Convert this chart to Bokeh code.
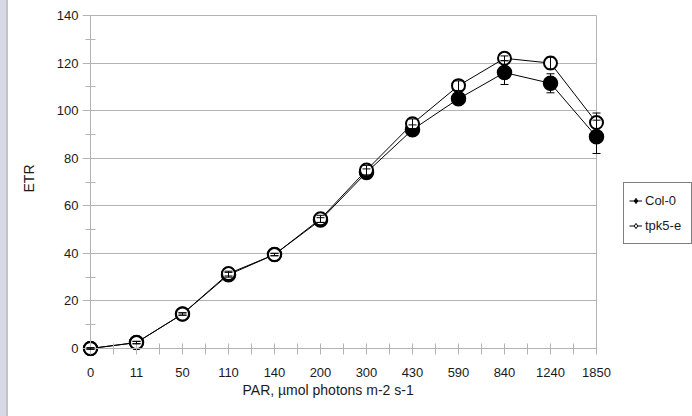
from bokeh.plotting import figure
from bokeh.layouts import row
from bokeh.models import (Range1d, FixedTicker, Legend, LegendItem, Whisker,
                          ColumnDataSource, TeeHead, LinearAxis, Spacer, Title)
from bokeh.embed import file_html
from bokeh.resources import INLINE

# ---- data ----
par_labels = ["0", "11", "50", "110", "140", "200", "300", "430", "590", "840", "1240", "1850"]
col0 = [0, 2.5, 14.5, 31, 39.5, 54, 74, 92, 105, 116, 111.5, 89]
col0_err = [0.3, 0.5, 0.5, 1, 0.5, 1, 1.5, 2, 2, 5, 4, 7]
tpk5 = [0, 2.5, 14.5, 31.5, 39.5, 54.5, 75, 94.5, 110.5, 122, 120, 95]
tpk5_err = [0.3, 0.5, 0.5, 1, 0.5, 1.5, 2, 2, 2, 1, 2.5, 4]
y_ticks = [0, 20, 40, 60, 80, 100, 120, 140]
y_minor = [10, 30, 50, 70, 90, 110, 130]
series_names = ["Col-0", "tpk5-e"]
x_title = "PAR, µmol photons m-2 s-1"
y_title = "ETR"

x = list(range(len(par_labels)))
n = len(par_labels) - 1
x_minor = [i * 0.5 for i in range(2 * n + 1)]

GRAY = "#b3b3b3"
TXT = "#1a1a1a"
FONT = "Liberation Sans"
FS = "13px"
FS_AX = "14px"
PX_X = 46.0
PX_Y = 333.0 / 140.0
STRIP = 8

p = figure(width=692 - STRIP, height=416, output_backend="svg", toolbar_location=None,
           x_range=Range1d(-8 / PX_X, n + 96 / PX_X),
           y_range=Range1d(-8 / PX_Y, 140 + 15 / PX_Y),
           min_border_left=82 - STRIP, min_border_right=0, min_border_top=0,
           min_border_bottom=60)
p.outline_line_color = None
p.background_fill_color = "white"
p.border_fill_color = "white"

# grid
p.ygrid.ticker = FixedTicker(ticks=y_ticks[1:])
p.ygrid.cross_bounds = (0, n)
p.ygrid.grid_line_color = GRAY
p.xgrid.ticker = FixedTicker(ticks=[n])
p.xgrid.cross_bounds = (0, 140)
p.xgrid.grid_line_color = GRAY

# ---- label axes (text only) ----
xa = p.xaxis[0]
xa.ticker = FixedTicker(ticks=x)
xa.major_label_overrides = {i: lab for i, lab in zip(x, par_labels)}
xa.axis_line_color = None
xa.major_tick_line_color = None
xa.minor_tick_line_color = None
xa.major_tick_in = 0
xa.major_tick_out = 0
xa.minor_tick_in = 0
xa.minor_tick_out = 0
xa.major_label_standoff = 11
xa.major_label_text_font = FONT
xa.major_label_text_font_size = FS
xa.major_label_text_color = TXT

# x axis title, placed left of centre like in the original
p.add_layout(Title(text=x_title, align="left", offset=160, standoff=0,
                   text_font=FONT, text_font_size=FS_AX, text_font_style="normal",
                   text_color=TXT), "below")

ya = p.yaxis[0]
ya.ticker = FixedTicker(ticks=y_ticks)
ya.bounds = (-8 / PX_Y, 140)
ya.axis_line_color = None
ya.major_tick_line_color = None
ya.minor_tick_line_color = None
ya.major_tick_in = 0
ya.major_tick_out = 0
ya.minor_tick_in = 0
ya.minor_tick_out = 0
ya.major_label_standoff = 4
ya.major_label_text_font = FONT
ya.major_label_text_font_size = FS
ya.major_label_text_color = TXT
ya.axis_label = y_title
ya.axis_label_text_font = FONT
ya.axis_label_text_font_size = FS_AX
ya.axis_label_text_font_style = "normal"
ya.axis_label_text_color = TXT
ya.axis_label_standoff = 17

# ---- axis lines + tick marks at data zero (no text) ----
xa2 = LinearAxis(fixed_location=0, bounds=(0, n),
                 ticker=FixedTicker(ticks=[], minor_ticks=x_minor),
                 axis_line_color=GRAY, major_tick_line_color=None, minor_tick_line_color=GRAY,
                 major_tick_in=0, major_tick_out=0, minor_tick_in=5, minor_tick_out=6)
p.add_layout(xa2, "below")
ya2 = LinearAxis(fixed_location=0, bounds=(0, 140),
                 ticker=FixedTicker(ticks=[], minor_ticks=y_minor),
                 axis_line_color=GRAY, major_tick_line_color=None, minor_tick_line_color=GRAY,
                 major_tick_in=0, major_tick_out=0, minor_tick_in=5, minor_tick_out=5)
p.add_layout(ya2, "left")
ya3 = LinearAxis(fixed_location=0, bounds=(0, 140),
                 ticker=FixedTicker(ticks=[], minor_ticks=y_ticks),
                 axis_line_color=None, major_tick_line_color=None, minor_tick_line_color=GRAY,
                 major_tick_in=0, major_tick_out=0, minor_tick_in=0, minor_tick_out=8)
p.add_layout(ya3, "left")

# ---- series ----
src = ColumnDataSource(dict(
    x=x, col0=col0, tpk5=tpk5,
    col0_lo=[v - e for v, e in zip(col0, col0_err)],
    col0_hi=[v + e for v, e in zip(col0, col0_err)],
    tpk5_lo=[v - e for v, e in zip(tpk5, tpk5_err)],
    tpk5_hi=[v + e for v, e in zip(tpk5, tpk5_err)],
))

l_col = p.line("x", "col0", source=src, line_color="black", line_width=1)
l_tpk = p.line("x", "tpk5", source=src, line_color="black", line_width=1)
# legend symbols (diamonds) - hidden underneath the circles in the plot
d_col = p.scatter("x", "col0", source=src, marker="diamond", size=9,
                  fill_color="black", line_color="black")
d_tpk = p.scatter("x", "tpk5", source=src, marker="diamond", size=9,
                  fill_color="white", line_color="black")
p.scatter("x", "col0", source=src, marker="circle", size=14,
          fill_color="black", line_color="black", line_width=1.5)
p.scatter("x", "tpk5", source=src, marker="circle", size=13,
          fill_color="white", line_color="black", line_width=2)

for lo, hi in (("col0_lo", "col0_hi"), ("tpk5_lo", "tpk5_hi")):
    w = Whisker(source=src, base="x", lower=lo, upper=hi, level="overlay",
                line_color="black", line_width=1,
                upper_head=TeeHead(size=8, line_color="black", line_width=1),
                lower_head=TeeHead(size=8, line_color="black", line_width=1))
    p.add_layout(w)

legend = Legend(items=[LegendItem(label=series_names[0], renderers=[l_col, d_col]),
                       LegendItem(label=series_names[1], renderers=[l_tpk, d_tpk])],
                location=(541, 112), padding=5, spacing=0, margin=0,
                glyph_width=13, glyph_height=25, label_height=25, label_width=41,
                label_standoff=3,
                label_text_font=FONT, label_text_font_size=FS, label_text_color=TXT,
                border_line_color="black", border_line_width=1,
                background_fill_color="white", background_fill_alpha=1)
p.add_layout(legend)

# left window strip of the original screenshot
strip = Spacer(width=STRIP, height=416,
               styles={"background": "linear-gradient(to right, #d7d8e6 0px, #d7d8e6 6px, #c2c3c8 6px, #c2c3c8 8px)"})

layout = row(strip, p, spacing=0)

open("out.html", "w").write(file_html(layout, INLINE))
